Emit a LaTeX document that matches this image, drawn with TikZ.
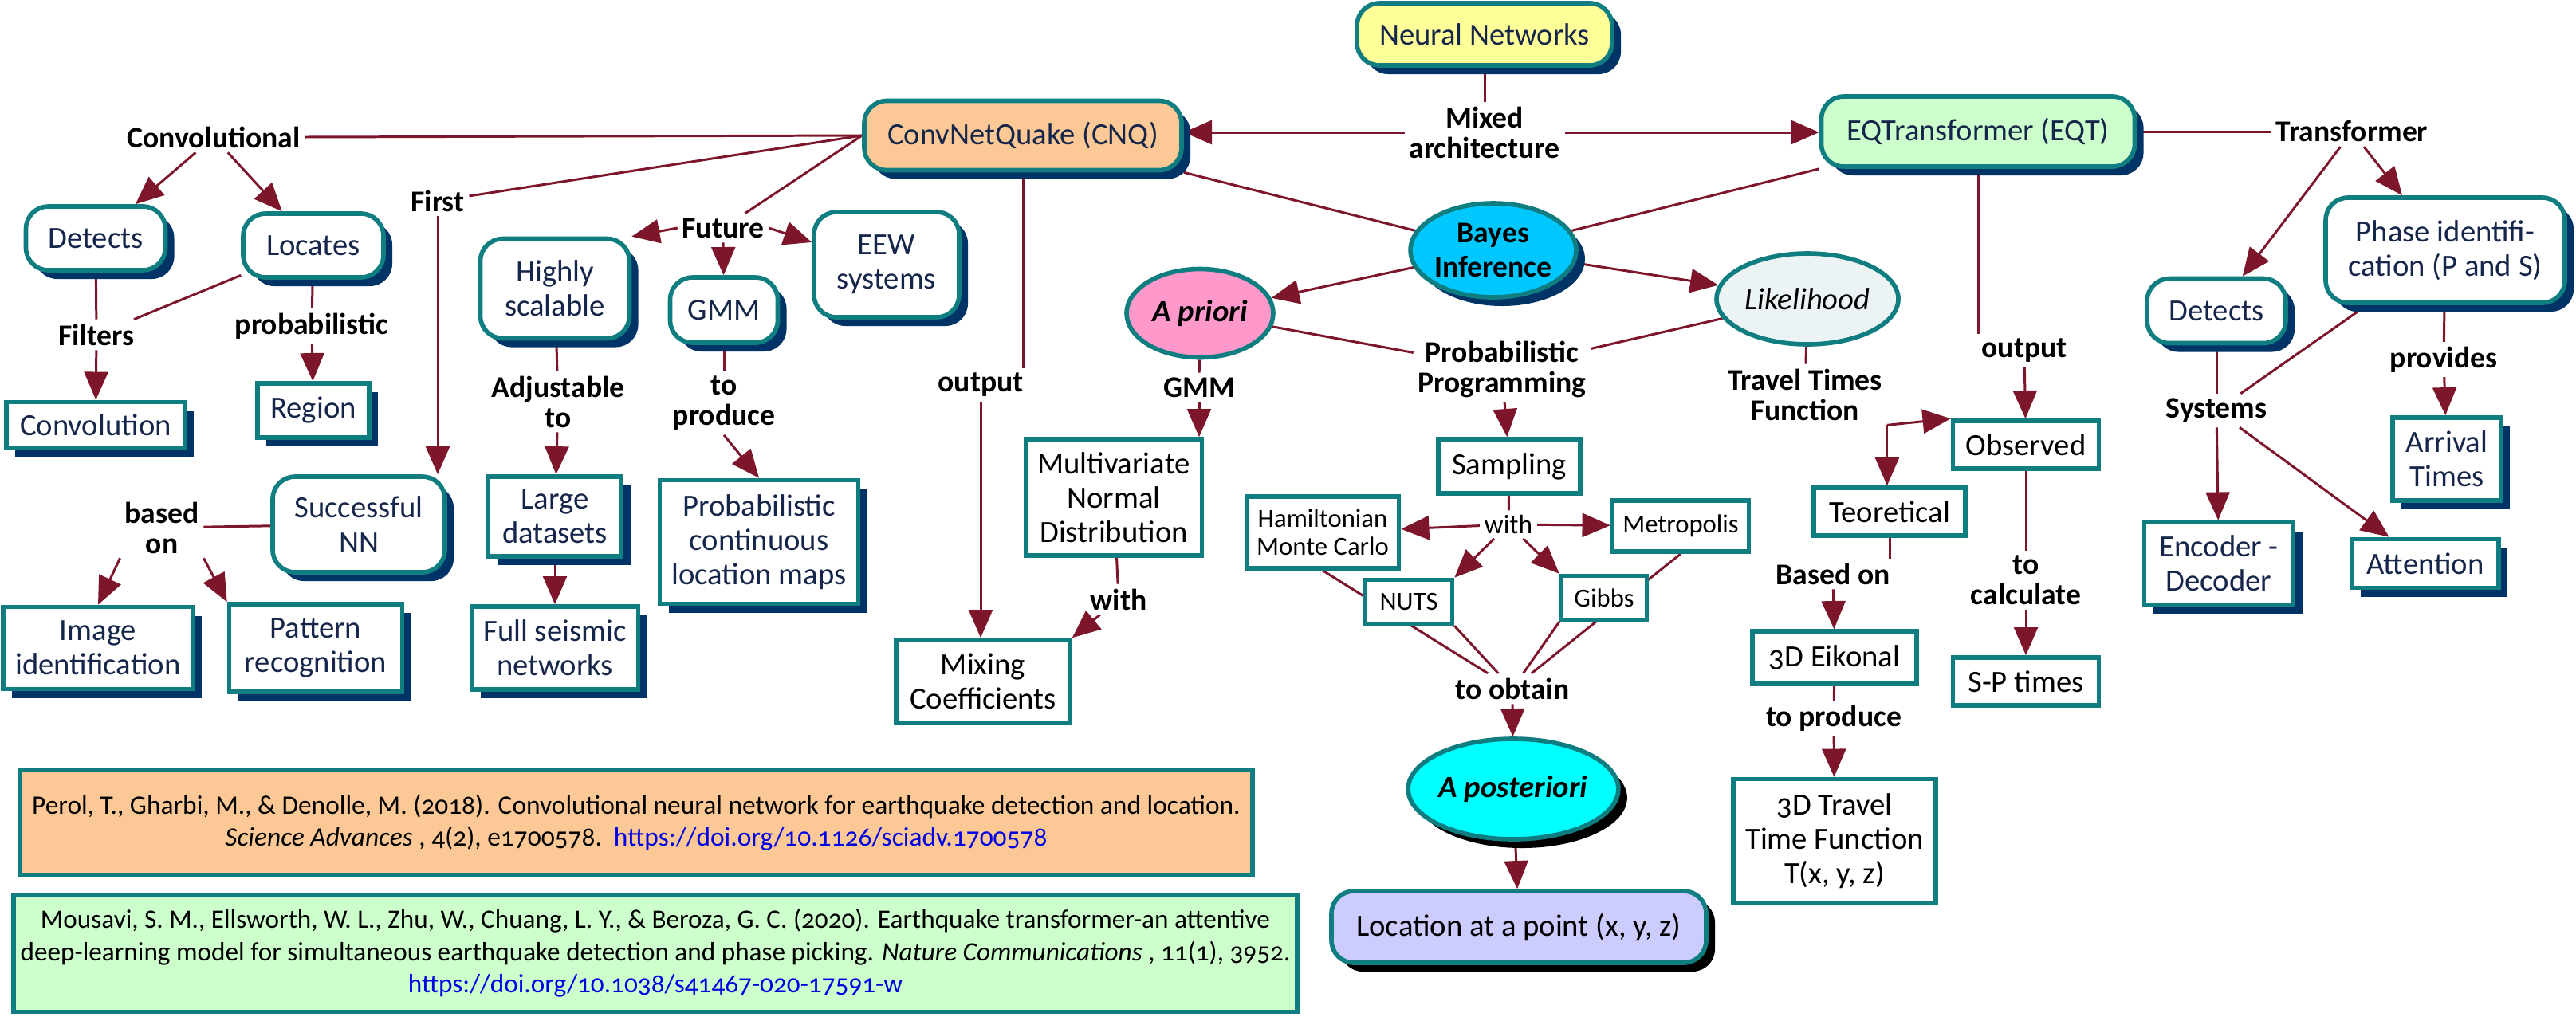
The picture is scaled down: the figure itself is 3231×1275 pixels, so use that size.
\documentclass[tikz,border=0pt]{standalone}
\usepackage{fontspec}
\setmainfont{Carlito}[Numbers=OldStyle]
\usetikzlibrary{arrows.meta,shadows,shapes.geometric}
\definecolor{bteal}{RGB}{16,125,128}
\definecolor{navyS}{RGB}{0,51,102}
\definecolor{mroon}{RGB}{125,22,42}
\definecolor{ntext}{RGB}{22,38,74}
\definecolor{cnqO}{RGB}{252,201,150}
\definecolor{nnY}{RGB}{255,255,153}
\definecolor{eqtG}{RGB}{204,255,204}
\definecolor{bayesB}{RGB}{0,200,255}
\definecolor{apP}{RGB}{255,153,204}
\definecolor{likG}{RGB}{236,243,245}
\definecolor{apostC}{RGB}{0,255,255}
\definecolor{locP}{RGB}{204,204,255}
\definecolor{urlB}{RGB}{0,0,230}
\pgfdeclarelayer{bg}
\pgfsetlayers{bg,main}
\tikzset{
  sz/.style args={#1/#2}{minimum width=#1*0.01cm, minimum height=#2*0.01cm},
  base/.style={draw=bteal, line width=1.6pt, align=center, inner sep=2pt, font=\fontsize{11}{12.3}\selectfont},
  shn/.style={drop shadow={shadow xshift=0.11cm, shadow yshift=-0.11cm, fill=navyS, opacity=1}},
  shk/.style={drop shadow={shadow xshift=0.11cm, shadow yshift=-0.11cm, fill=black, opacity=1}},
  rboxb/.style={base, rectangle, rounded corners=8pt, fill=white, text=ntext},
  rbox/.style={rboxb, shn},
  sbox/.style={base, rectangle, fill=white, text=ntext, shn},
  pbox/.style={base, rectangle, fill=white, text=black},
  small/.style={font=\fontsize{9.3}{10}\selectfont},
  ell/.style={base, ellipse, text=black, inner sep=0pt},
  lbl/.style={font=\fontsize{10.7}{10.8}\selectfont\bfseries, align=center, inner sep=1.5pt, text=black},
  con/.style={draw=mroon, line width=0.85pt},
  arr/.style={con, -{Triangle[length=10pt,width=8.5pt]}},
}
\begin{document}
\begin{tikzpicture}[x=0.01cm, y=-0.01cm]
\useasboundingbox (0,0) rectangle (3231,1275);

% main rounded shadowed boxes
\node[rbox, fill=nnY, sz=320/78] (nn) at (1862,43) {Neural Networks};
\node[rbox, fill=cnqO, sz=398/87] (cnq) at (1283,170) {ConvNetQuake (CNQ)};
\node[rbox, fill=eqtG, sz=393/88] (eqt) at (2481,165) {EQTransformer (EQT)};
\node[rbox, sz=175/80] (detL) at (120,299) {Detects};
\node[rbox, sz=176/80] (loc) at (393,308) {Locates};
\node[rbox, sz=187/125] (hs) at (696,362) {Highly\\scalable};
\node[rbox, sz=135/82] (gmmA) at (908,389) {GMM};
\node[rbox, sz=182/132] (eew) at (1112,332) {EEW\\systems};
\node[rbox, sz=216/120] (succ) at (450,658) {Successful\\NN};
\node[rbox, sz=300/132] (phase) at (3067,314) {Phase identifi-\\cation (P and S)};
\node[rbox, sz=174/81] (detR) at (2780,390) {Detects};
\node[rboxb, shk, fill=locP, text=black, sz=470/90] (locpt) at (1905,1163) {Location at a point (x, y, z)};

% square shadowed boxes
\node[sbox, sz=224/57] (conv) at (120,533) {Convolution};
\node[sbox, sz=140/68] (region) at (393,515) {Region};
\node[sbox, sz=238/103] (img) at (123,813) {Image\\identification};
\node[sbox, sz=217/110] (pat) at (396,813) {Pattern\\recognition};
\node[sbox, sz=167/100] (large) at (696,648) {Large\\datasets};
\node[sbox, sz=209/104] (full) at (696,813) {Full seismic\\networks};
\node[sbox, sz=249/155] (pcl) at (952,680) {Probabilistic\\continuous\\location maps};
\node[sbox, sz=136/104] (arrT) at (3069,576) {Arrival\\Times};
\node[sbox, sz=187/103] (enc) at (2783,707) {Encoder -\\Decoder};
\node[sbox, sz=184/61] (att) at (3042,707) {Attention};

% plain boxes
\node[pbox, sz=218/104] (mix) at (1233,855) {Mixing\\Coefficients};
\node[pbox, sz=221/146] (mvn) at (1397,624) {Multivariate\\Normal\\Distribution};
\node[pbox, sz=178/68] (samp) at (1893,585) {Sampling};
\node[pbox, small, sz=191/90] (ham) at (1659,668) {Hamiltonian\\Monte Carlo};
\node[pbox, small, sz=171/64] (met) at (2108,660) {Metropolis};
\node[pbox, small, sz=109/55] (nuts) at (1767,755) {NUTS};
\node[pbox, small, sz=107/55] (gibbs) at (2012,750) {Gibbs};
\node[pbox, sz=190/60] (teor) at (2370,642) {Teoretical};
\node[pbox, sz=183/60] (obs) at (2541,558) {Observed};
\node[pbox, sz=206/66] (eik) at (2301,825) {3D Eikonal};
\node[pbox, sz=183/60] (sp) at (2541,855) {S-P times};
\node[pbox, sz=254/155] (tt3) at (2301,1055) {3D Travel\\Time Function\\T(x, y, z)};

% ellipses
\node[ell, shn, fill=bayesB, sz=195/118, font=\fontsize{10.7}{12}\selectfont\bfseries] (bayes) at (1873,314) {Bayes\\Inference};
\node[ell, fill=apP, sz=184/111] (apriori) at (1505,393) {\bfseries\itshape A priori};
\node[ell, fill=likG, sz=228/114] (lik) at (2267,375) {\itshape Likelihood};
\node[ell, shk, fill=apostC, sz=246/126] (apost) at (1898,990) {\bfseries\itshape A posteriori};

% references
\node[base, rectangle, fill=cnqO, text=black, sz=1546/131, font=\fontsize{9.5}{11.5}\selectfont] (perol) at (798,1032)
 {Perol, T., Gharbi, M., \& Denolle, M. (2018). Convolutional neural network for earthquake detection and location.\\
  \textit{Science Advances} , 4(2), e1700578.\ \ \textcolor{urlB}{https://doi.org/10.1126/sciadv.1700578}};
\node[base, rectangle, fill=eqtG, text=black, sz=1610/147, font=\fontsize{9.45}{11.5}\selectfont] (mous) at (822,1196)
 {Mousavi, S. M., Ellsworth, W. L., Zhu, W., Chuang, L. Y., \& Beroza, G. C. (2020). Earthquake transformer-an attentive\\
  deep-learning model for simultaneous earthquake detection and phase picking. \textit{Nature Communications} , 11(1), 3952.\\
  \textcolor{urlB}{https://doi.org/10.1038/s41467-020-17591-w}};

% labels
\node[lbl] (convlbl) at (268,172) {Convolutional};
\node[lbl] (firstlbl) at (549,252) {First};
\node[lbl] (futlbl) at (907,286) {Future};
\node[lbl] (filtlbl) at (121,420) {Filters};
\node[lbl] (problbl) at (391,409) {probabilistic};
\node[lbl] (basedonlbl) at (203,662) {based\\on};
\node[lbl] (adjlbl) at (700,504) {Adjustable\\to};
\node[lbl] (toprodL) at (908,506) {to\\produce};
\node[lbl] (mixedlbl) at (1862,166) {Mixed\\architecture};
\node[lbl] (outL) at (1230,483) {output};
\node[lbl] (gmmlbl) at (1504,486) {GMM};
\node[lbl] (pplbl) at (1884,463) {Probabilistic\\Programming};
\node[lbl] (withL) at (1403,752) {with};
\node[lbl, font=\fontsize{9.5}{10}\selectfont] (withM) at (1892,658) {with};
\node[lbl] (toobtain) at (1897,864) {to obtain};
\node[lbl] (ttflbl) at (2264,495) {Travel Times\\Function};
\node[lbl] (outR) at (2539,440) {output};
\node[lbl] (basedon2) at (2299,720) {Based on};
\node[lbl] (tocalc) at (2541,728) {to\\calculate};
\node[lbl] (toprodR) at (2300,901) {to produce};
\node[lbl] (translbl) at (2950,165) {Transformer};
\node[lbl] (provides) at (3065,451) {provides};
\node[lbl] (systems) at (2780,515) {Systems};

\begin{pgfonlayer}{bg}
\draw[con] (nn) -- (mixedlbl);
\draw[arr] (mixedlbl.west) -- (mixedlbl.west -| cnq.east);
\draw[arr] (mixedlbl.east) -- (mixedlbl.east -| eqt.west);
\draw[con] (cnq.west) -- (convlbl.east);
\draw[con] (cnq.west) -- (firstlbl);
\draw[con] (cnq.west) -- (futlbl);
\draw[arr] (convlbl) -- (detL);
\draw[arr] (convlbl) -- (loc);
\draw[con] (detL) -- (filtlbl);
\draw[arr] (filtlbl) -- (conv);
\draw[con] (loc) -- (filtlbl);
\draw[con] (loc) -- (problbl);
\draw[arr] (problbl) -- (region);
\draw[arr] (firstlbl.south) -- (firstlbl.south |- succ.north);
\draw[con] (succ) -- (basedonlbl);
\draw[arr] (basedonlbl.south west) -- (img.north);
\draw[arr] (basedonlbl.south east) -- (pat.north west);
\draw[arr] (futlbl.west) -- (hs.north east);
\draw[arr] (futlbl) -- (gmmA);
\draw[arr] (futlbl.east) -- ([yshift=0.28cm]eew.west);
\draw[con] (hs) -- (adjlbl);
\draw[arr] (adjlbl) -- (large);
\draw[arr] (large) -- (full);
\draw[con] (gmmA) -- (toprodL);
\draw[arr] (toprodL.south) -- (pcl.north);
\draw[con] (cnq.south east) -- (bayes);
\draw[con] (eqt.south west) -- (bayes);
\draw[arr] (bayes) -- (apriori);
\draw[arr] (bayes) -- (lik);
\draw[con] (apriori) -- (pplbl);
\draw[con] (lik) -- (pplbl);
\draw[arr] (pplbl) -- (samp);
\draw[con] (apriori) -- (gmmlbl);
\draw[arr] (gmmlbl.south) -- (gmmlbl.south |- mvn.north);
\draw[con] (cnq.south) -- (cnq.south |- outL.north);
\draw[arr] (outL.south) -- (outL.south |- mix.north);
\draw[con] (mvn) -- (withL);
\draw[arr] (withL) -- (mix.north east);
\draw[con] (samp) -- (withM);
\draw[arr] (withM) -- (ham);
\draw[arr] (withM) -- (met);
\draw[arr] (withM) -- (nuts.north east);
\draw[arr] (withM) -- (gibbs.north west);
\draw[con] (ham.south) -- (toobtain);
\draw[con] (nuts.south east) -- (toobtain);
\draw[con] (gibbs.south west) -- (toobtain);
\draw[con] (met.south) -- (toobtain);
\draw[arr] (toobtain) -- (apost);
\draw[arr] (apost) -- (locpt);
\draw[con] (eqt.south) -- (eqt.south |- outR.north);
\draw[arr] (outR) -- (obs);
\draw[con] (lik) -- (ttflbl);
\draw[arr] (ttflbl.south east) -- (obs.north west);
\draw[arr] (ttflbl.south east) -- (ttflbl.south east |- teor.north);
\draw[con] (teor.south) -- (teor.south |- basedon2.north);
\draw[arr] (basedon2) -- (eik);
\draw[con] (eik) -- (toprodR);
\draw[arr] (toprodR) -- (tt3);
\draw[con] (obs) -- (tocalc);
\draw[arr] (tocalc) -- (sp);
\draw[con] (eqt.east) -- (translbl.west);
\draw[arr] (translbl) -- (phase);
\draw[arr] (translbl) -- (detR);
\draw[con] (phase) -- (provides);
\draw[arr] (provides) -- (arrT);
\draw[con] (detR) -- (systems);
\draw[con] (phase) -- (systems);
\draw[arr] (systems) -- (enc);
\draw[arr] (systems) -- (att);
\end{pgfonlayer}
\end{tikzpicture}
\end{document}
